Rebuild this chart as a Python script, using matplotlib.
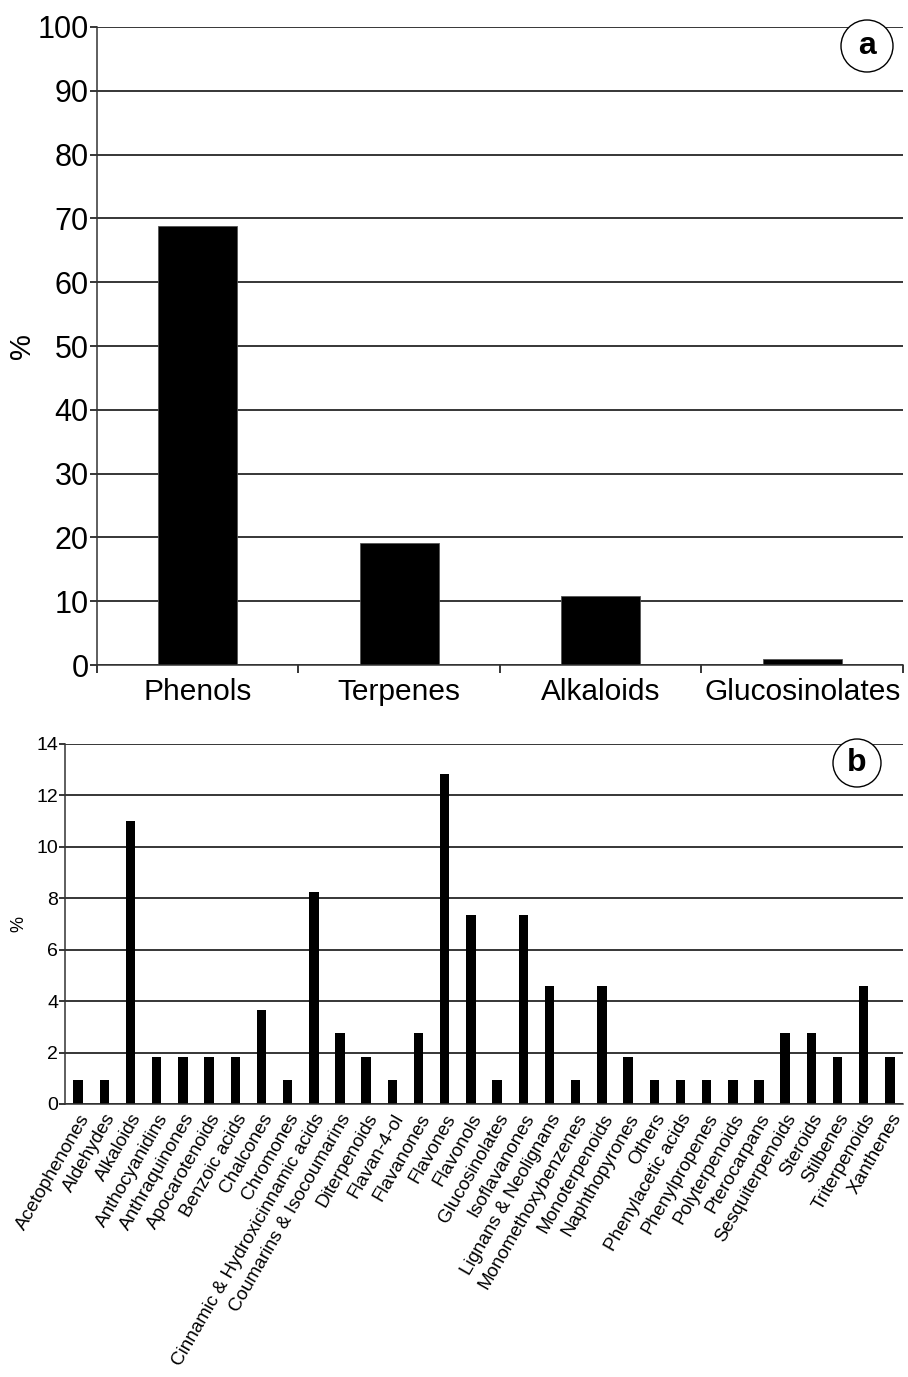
import matplotlib.pyplot as plt
from matplotlib.patches import Ellipse
import numpy as np

plt.rcParams['font.family'] = ['Liberation Sans', 'DejaVu Sans']

# ===== data =====
groups = ["Phenols", "Terpenes", "Alkaloids", "Glucosinolates"]
group_pct = [68.8, 19.2, 10.8, 0.9]

classes = [
    "Acetophenones", "Aldehydes", "Alkaloids", "Anthocyanidins", "Anthraquinones",
    "Apocarotenoids", "Benzoic acids", "Chalcones", "Chromones",
    "Cinnamic & Hydroxicinnamic acids", "Coumarins & Isocoumarins", "Diterpenoids",
    "Flavan-4-ol", "Flavanones", "Flavones", "Flavonols", "Glucosinolates",
    "Isoflavanones", "Lignans & Neolignans", "Monomethoxybenzenes", "Monoterpenoids",
    "Naphthopyrones", "Others", "Phenylacetic acids", "Phenylpropenes",
    "Polyterpenoids", "Pterocarpans", "Sesquiterpenoids", "Steroids", "Stilbenes",
    "Triterpenoids", "Xanthenes",
]
class_pct = [
    0.92, 0.92, 11.0, 1.83, 1.83, 1.83, 1.83, 3.67, 0.92, 8.26, 2.75, 1.83,
    0.92, 2.75, 12.84, 7.34, 0.92, 7.34, 4.59, 0.92, 4.59, 1.83, 0.92, 0.92,
    0.92, 0.92, 0.92, 2.75, 2.75, 1.83, 4.59, 1.83,
]

W, H = 908, 1377
fig = plt.figure(figsize=(W / 100, H / 100), dpi=100)
ax_a = fig.add_axes([0.1068, 0.517, 0.8877, 0.4634])
ax_b = fig.add_axes([0.0716, 0.1983, 0.9229, 0.2614])


def style(ax):
    ax.spines['top'].set_visible(False)
    ax.spines['right'].set_visible(False)
    ax.yaxis.grid(True, color='black', linewidth=1.1)
    ax.set_axisbelow(True)
    for s in ('left', 'bottom'):
        ax.spines[s].set_linewidth(1.1)
        ax.spines[s].set_color('#333333')


def badge(letter, x, y, r):
    # circled panel letter, position given in figure pixels
    circ = Ellipse((x / W, 1 - y / H), 2 * r / W, 2 * r / H, transform=fig.transFigure,
                   facecolor='white', edgecolor='black', linewidth=1.0, zorder=5)
    fig.add_artist(circ)
    fig.text(x / W, 1 - y / H, letter, ha='center', va='center',
             fontsize=23, fontweight='bold', zorder=6)


# ===== panel a =====
x = np.arange(len(groups))
ax_a.bar(x, group_pct, width=0.39, color='black', edgecolor='#555555', linewidth=0.6)
style(ax_a)
ax_a.set_xlim(-0.5, len(groups) - 0.5)
ax_a.set_ylim(0, 100)
ax_a.set_yticks(np.arange(0, 101, 10))
ax_a.set_xticks(x)
ax_a.set_xticklabels(groups, fontsize=21.5)
ax_a.set_xticks(np.arange(-0.5, len(groups), 1), minor=True)
ax_a.tick_params(axis='x', which='major', length=0, pad=9)
ax_a.tick_params(axis='x', which='minor', length=6, width=1.1, direction='out')
ax_a.tick_params(axis='y', labelsize=22, length=5, width=1.1, pad=1)
ax_a.set_ylabel("%", fontsize=21, labelpad=1)
badge("a", 867, 46, 26)

# ===== panel b =====
xb = np.arange(len(classes))
ax_b.bar(xb, class_pct, width=0.36, color='black')
style(ax_b)
ax_b.set_xlim(-0.5, len(classes) - 0.5)
ax_b.set_ylim(0, 14)
ax_b.set_yticks(np.arange(0, 15, 2))
ax_b.set_xticks(xb)
ax_b.set_xticklabels(classes, fontsize=13.6, rotation=60, ha='right',
                     rotation_mode='anchor')
ax_b.tick_params(axis='x', length=0, pad=5)
ax_b.tick_params(axis='y', labelsize=14, length=4, width=1.1, pad=1)
ax_b.set_ylabel("%", fontsize=13, labelpad=6)
badge("b", 857, 763, 24)

fig.savefig("out.png", dpi=100)
